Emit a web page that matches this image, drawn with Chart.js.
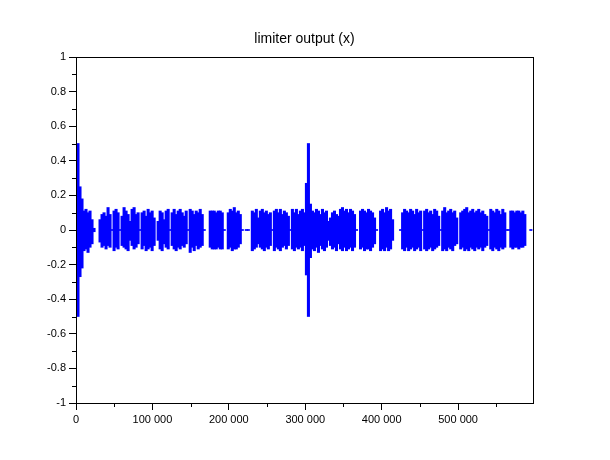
<!DOCTYPE html>
<html>
<head>
<meta charset="utf-8">
<script src="https://cdn.jsdelivr.net/npm/chart.js@4/dist/chart.umd.min.js"></script>
<style>
  html, body { margin: 0; padding: 0; background: #fff; }
  canvas { display: block; }
</style>
</head>
<body>
<canvas id="chart" width="610" height="460"></canvas>
<script>
// Waveform envelope, one bin per ~2 px column.
// upper = peak above zero, lower = peak below zero, both in hundredths.
// null = nothing drawn there (silence between bursts), 0 = flat stretch at zero.
const X0 = 1300;     // sample index of the first bin
const STEP = 2622;   // samples per bin

const upper = [
  50, 25, 18, 11, 12, 10, 11, 6, 1, null, null, 6, 9, 10, 8, 13, 9, 0, 11, 12,
  10, 0, 8, 13, 11, 9, 5, 12, 13, 9, 10, 0, 10, 11, 8, 12, 10, 11, 7, null,
  5, 11, 10, 6, 11, 12, 0, 10, 12, 9, 11, 12, 10, 8, 11, 0, 12, 11, 9, 11,
  10, 12, 9, 0, null, null, 11, 11, 11, 10, 11, 11, 10, 0, null, 10, 12, 11, 13, 10,
  11, 9, 0, null, 0, 0, null, 11, 10, 12, 7, 11, 12, 10, 11, 9, 10, 0, 11, 12,
  10, 12, 9, 11, 10, 8, 0, 12, 10, 12, 9, 11, 12, 10, 27, 50, 15, 11, 10, 12,
  11, 9, 12, 10, 11, 5, 7, 10, 11, 9, 8, 12, 13, 11, 12, 10, 12, 11, 9, 0,
  null, 11, 12, 11, 10, 12, 11, 10, 7, 0, null, 11, 12, 10, 13, 11, 12, 6, null, null,
  null, 0, 10, 12, 11, 10, 12, 11, 9, 12, 10, 11, 0, 11, 12, 10, 11, 9, 12, 11,
  8, 0, 11, 13, 10, 11, 12, 10, 11, 7, null, 10, 11, 12, 13, 10, 11, 12, 10, 11,
  12, 10, 11, 9, 8, 0, 12, 11, 10, 12, 11, 9, 12, 10, 0, 0, 11, 11, 10, 11,
  11, 10, 11, 9, null, null, 0
];
const lower = [
  50, 27, 22, 12, 11, 13, 10, 8, 1, null, null, 7, 10, 9, 11, 9, 10, 0, 12, 10,
  11, 0, 9, 10, 11, 12, 6, 9, 11, 10, 8, 0, 11, 9, 12, 11, 10, 12, 9, null,
  6, 11, 12, 8, 10, 11, 0, 9, 11, 12, 10, 11, 9, 10, 8, 0, 13, 10, 12, 9,
  11, 10, 9, 0, null, null, 10, 11, 11, 11, 10, 11, 11, 0, null, 11, 10, 12, 11, 11,
  10, 8, 0, null, 0, 0, null, 12, 11, 10, 8, 10, 11, 12, 10, 11, 9, 0, 12, 10,
  11, 12, 10, 9, 11, 9, 0, 11, 12, 10, 11, 10, 12, 9, 26, 50, 16, 11, 12, 10,
  13, 9, 11, 12, 10, 6, 9, 11, 10, 12, 8, 11, 12, 10, 12, 11, 10, 12, 10, 0,
  null, 11, 10, 12, 11, 11, 12, 10, 8, 0, null, 12, 11, 12, 10, 12, 11, 6, null, null,
  null, 0, 11, 12, 10, 12, 11, 10, 12, 11, 10, 12, 0, 11, 12, 11, 10, 12, 11, 10,
  9, 0, 12, 11, 12, 10, 11, 12, 9, 8, null, 11, 10, 12, 11, 12, 10, 11, 12, 10,
  11, 10, 12, 10, 9, 0, 11, 12, 10, 11, 12, 10, 11, 10, 0, 0, 10, 11, 10, 10,
  11, 10, 10, 9, null, null, 0
];

const TITLE = "limiter output (x)";
const X_MAX = 598000;
const xTicks = [0, 100000, 200000, 300000, 400000, 500000];
const xMinorTicks = [50000, 150000, 250000, 350000, 450000, 550000];
const yTicks = [-1, -0.8, -0.6, -0.4, -0.2, 0, 0.2, 0.4, 0.6, 0.8, 1];
const yMinorTicks = [-0.9, -0.7, -0.5, -0.3, -0.1, 0.1, 0.3, 0.5, 0.7, 0.9];

// Each bin is a floating bar from its trough to its peak. Flat stretches get a
// hairline so they still show as the little dashes on the zero line.
const bins = [];
upper.forEach((u, b) => {
  if (u === null) return;
  const hi = Math.max(u / 100, 0.003);
  const lo = Math.min(-lower[b] / 100, -0.003);
  bins.push({ x: X0 + b * STEP + STEP / 2, y: [lo, hi] });
});

const FONT = "'Liberation Sans', Arial, sans-serif";

// Title centred on the plot box, the closed frame, and the short unlabeled ticks.
const frame = {
  id: "frame",
  afterDraw(chart) {
    const { ctx, chartArea: a, scales } = chart;
    ctx.save();
    ctx.fillStyle = "#000";
    ctx.font = `14px ${FONT}`;
    ctx.textAlign = "center";
    ctx.textBaseline = "middle";
    ctx.fillText(TITLE, (a.left + a.right) / 2, 39);

    ctx.strokeStyle = "#000";
    ctx.lineWidth = 1;
    ctx.strokeRect(Math.round(a.left) + 0.5, Math.round(a.top) + 0.5,
      Math.round(a.right - a.left), Math.round(a.bottom - a.top));
    ctx.beginPath();
    for (const v of xMinorTicks) {
      const px = Math.round(scales.x.getPixelForValue(v)) + 0.5;
      ctx.moveTo(px, a.bottom); ctx.lineTo(px, a.bottom + 4);
    }
    for (const v of yMinorTicks) {
      const py = Math.round(scales.y.getPixelForValue(v)) + 0.5;
      ctx.moveTo(a.left - 4, py); ctx.lineTo(a.left, py);
    }
    ctx.stroke();
    ctx.restore();
  },
};

new Chart(document.getElementById("chart"), {
  type: "bar",
  data: {
    datasets: [{
      data: bins,
      backgroundColor: "#0000ff",
      borderWidth: 0,
      barThickness: 2.4,
    }],
  },
  options: {
    responsive: false,
    animation: false,
    layout: { padding: { left: 0, right: 77, top: 57, bottom: 0 } },
    plugins: {
      legend: { display: false },
      tooltip: { enabled: false },
      title: { display: false },
    },
    scales: {
      x: {
        type: "linear",
        min: 0,
        max: X_MAX,
        offset: false,
        afterBuildTicks: (s) => { s.ticks = xTicks.map((value) => ({ value })); },
        afterFit: (s) => { s.height = 57; },
        grid: { drawOnChartArea: false, offset: false, tickLength: 7, tickColor: "#000" },
        border: { color: "#000" },
        ticks: {
          color: "#000",
          padding: 3,
          maxRotation: 0,
          font: { family: FONT, size: 11 },
          callback: (v) => String(v).replace(/\B(?=(\d{3})+(?!\d))/g, " "),
        },
      },
      y: {
        min: -1,
        max: 1,
        afterBuildTicks: (s) => { s.ticks = yTicks.map((value) => ({ value })); },
        afterFit: (s) => { s.width = 76; },
        grid: { drawOnChartArea: false, tickLength: 7, tickColor: "#000" },
        border: { color: "#000" },
        ticks: {
          color: "#000",
          padding: 3,
          font: { family: FONT, size: 11 },
          callback: (v) => String(Math.round(v * 10) / 10),
        },
      },
    },
  },
  plugins: [frame],
});
</script>
</body>
</html>
